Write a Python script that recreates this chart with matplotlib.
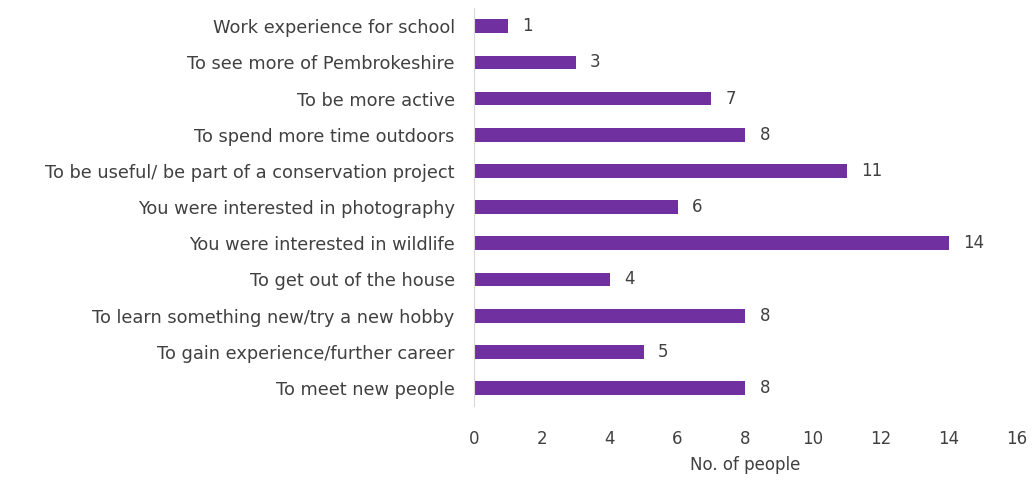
import matplotlib
matplotlib.use("Agg")
import matplotlib.pyplot as plt

# ---- data (top to bottom as shown) ----
reasons = [
    "Work experience for school",
    "To see more of Pembrokeshire",
    "To be more active",
    "To spend more time outdoors",
    "To be useful/ be part of a conservation project",
    "You were interested in photography",
    "You were interested in wildlife",
    "To get out of the house",
    "To learn something new/try a new hobby",
    "To gain experience/further career",
    "To meet new people",
]
counts = [1, 3, 7, 8, 11, 6, 14, 4, 8, 5, 8]
x_ticks = [0, 2, 4, 6, 8, 10, 12, 14, 16]

plt.rcParams["font.family"] = ["DejaVu Sans"]
TXT = "#404040"
FS = 12.8

fig = plt.figure(figsize=(10.33, 4.8), dpi=100)
ax = fig.add_axes([0.459, 0.154, 0.525, 0.829])

ypos = list(range(len(reasons)))[::-1]
ax.barh(ypos, counts, height=0.38, color="#7030A0")
for y, v in zip(ypos, counts):
    ax.text(v + 0.42, y, str(v), va="center", ha="left", fontsize=12, color=TXT)

ax.set_yticks(ypos)
ax.set_yticklabels(reasons, fontsize=FS, color=TXT)
ax.set_ylim(-0.5, len(reasons) - 0.5)
ax.set_xlim(0, 16)
ax.set_xticks(x_ticks)
ax.set_xticklabels([str(t) for t in x_ticks], fontsize=12, color=TXT)
ax.tick_params(axis="both", length=0)
ax.tick_params(axis="x", pad=17)
ax.tick_params(axis="y", pad=14)
ax.set_xlabel("No. of people", fontsize=12, color=TXT, labelpad=6)

for s in ("top", "right", "bottom"):
    ax.spines[s].set_visible(False)
ax.spines["left"].set_color("#d9d9d9")

fig.savefig("out.png", dpi=100)
